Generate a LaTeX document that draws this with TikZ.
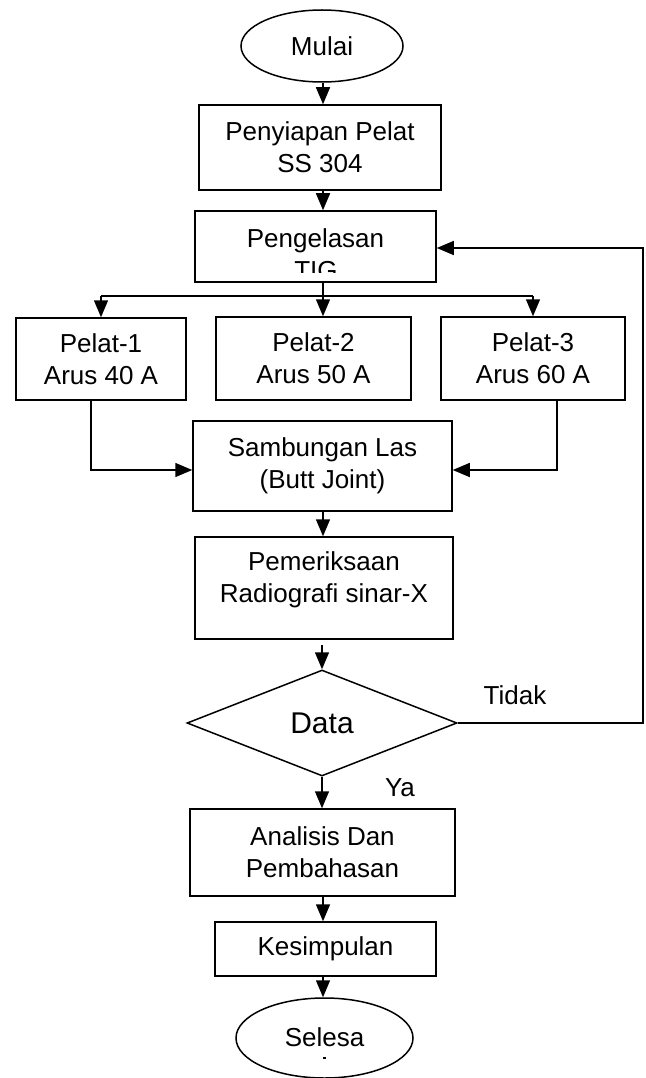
\documentclass[tikz,border=0pt]{standalone}
\usepackage{fontspec}
\setmainfont{Liberation Sans}
\usetikzlibrary{shapes.geometric,arrows.meta,calc}
\begin{document}
\begin{tikzpicture}[x=1pt,y=-1pt,
  line width=1.5pt,
  txt/.style={font=\fontsize{26}{32}\selectfont, align=center, inner sep=0pt},
  box/.style={draw, rectangle, inner sep=0pt, txt},
  term/.style={draw, ellipse, inner sep=0pt, txt},
  arr/.style={-{Triangle[length=17pt,width=14pt]}}]
\useasboundingbox (0,0) rectangle (645,1078);
\coordinate (cx) at (323,0);
\coordinate (bus) at (0,296);
% nodes
\node[term, minimum width=162, minimum height=72] (mulai) at (322,46) {Mulai};
\node[box, minimum width=242, minimum height=85] (siap) at (320,147.5) {Penyiapan Pelat\\SS 304};
\node[box, minimum width=241, minimum height=71] (peng) at (315.5,246.5) {};
\node[txt, anchor=base] (pengt) at (315.5,247) {Pengelasan};
\begin{scope}
  \clip (200,255) rectangle (430,272.5);
  \node[txt, anchor=base] (tig) at (316,279) {TIG};
\end{scope}
\node[box, minimum width=170, minimum height=82] (p1) at (101,359) {Pelat-1\\Arus 40 A};
\node[box, minimum width=195, minimum height=83] (p2) at (313.5,358.5) {Pelat-2\\Arus 50 A};
\node[box, minimum width=184, minimum height=83] (p3) at (533,358.5) {Pelat-3\\Arus 60 A};
\node[box, minimum width=259, minimum height=90] (samb) at (322.5,466) {Sambungan Las\\(Butt Joint)};
\node[box, minimum width=258, minimum height=102] (pem) at (324,588) {};
\node[txt] (pemt) at (324,580) {Pemeriksaan\\Radiografi sinar-X};
\node[draw, diamond, inner sep=0pt, minimum width=270, minimum height=106,
      font=\fontsize{30}{36}\selectfont] (data) at (322,723) {\raisebox{-2pt}{Data}};
\node[box, minimum width=265, minimum height=87] (anal) at (322.5,852.5) {Analisis Dan\\Pembahasan};
\node[box, minimum width=221, minimum height=54] (kes) at (325.5,949) {Kesimpulan};
\node[term, minimum width=177, minimum height=80] (sel) at (324.5,1038) {};
\node[txt, anchor=base] (selt) at (324.5,1046) {Selesa};
\fill (323,1057) rectangle (325.5,1059);
\node[txt] (tidak) at (515,695) {Tidak};
\node[txt] (ya) at (400,788) {Ya};
% connectors
\draw[arr] (mulai.south -| cx) -- (siap.north -| cx);
\draw[arr] (siap.south -| cx) -- (peng.north -| cx);
\draw (peng.south -| cx) -- (bus -| cx);
\draw (bus -| p1.north) -- (bus -| p3.north);
\draw[arr] (bus -| p1.north) -- (p1.north);
\draw[arr] (bus -| cx) -- (p2.north -| cx);
\draw[arr] (bus -| p3.north) -- (p3.north);
\coordinate (d1) at (91,470);
\coordinate (d3) at (557,470);
\draw[arr] (p1.south -| d1) -- (d1) -- (d1 -| samb.west);
\draw[arr] (p3.south -| d3) -- (d3) -- (d3 -| samb.east);
\draw[arr] (samb.south -| cx) -- (pem.north -| cx);
\draw[arr, shorten <=5pt] (pem.south -| data.north) -- (data.north);
\draw[arr] (data.south) -- (anal.north -| data.south);
\draw[arr] (anal.south -| cx) -- (kes.north -| cx);
\draw[arr] (kes.south -| cx) -- (sel.north -| cx);
\coordinate (fb) at (643,248);
\draw[arr] (data.east) -- (data.east -| fb) -- (fb) -- (fb -| peng.east);
\end{tikzpicture}
\end{document}
